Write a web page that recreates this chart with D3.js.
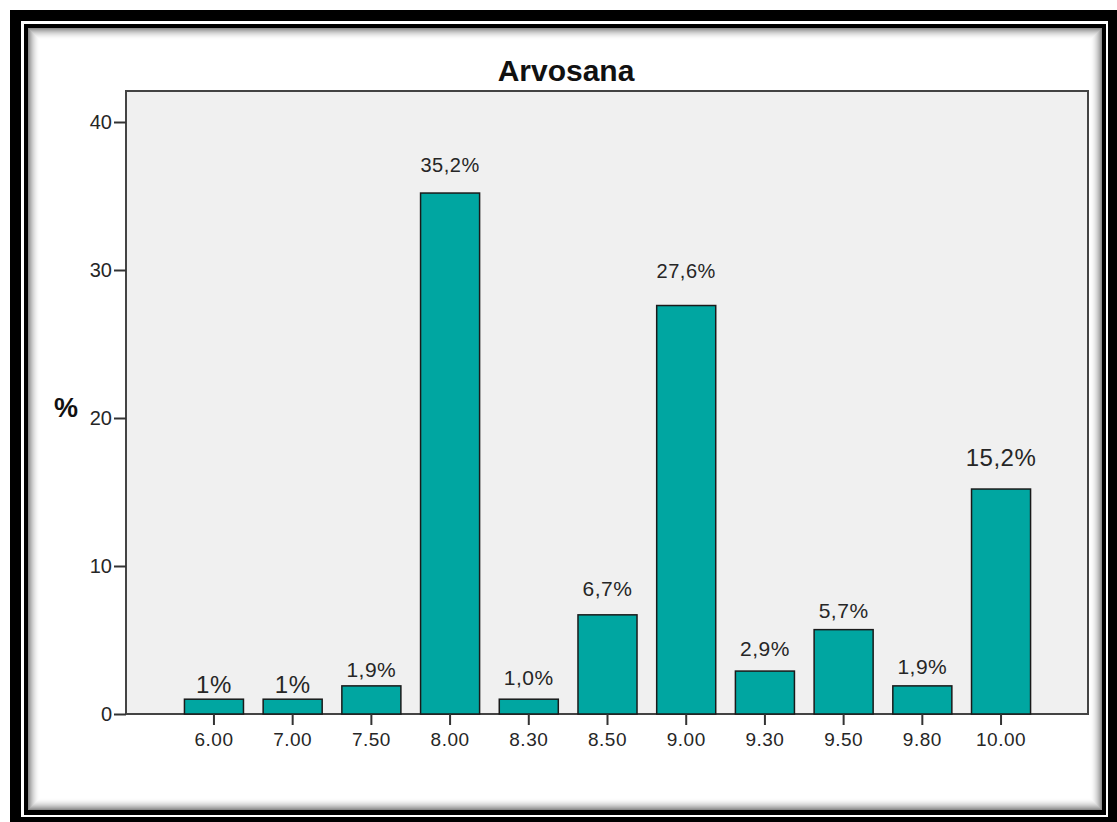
<!DOCTYPE html>
<html>
<head>
<meta charset="utf-8">
<script src="https://cdn.jsdelivr.net/npm/d3@7"></script>
<style>
  body { margin: 0; background: #fff; }
  svg { display: block; font-family: "Liberation Sans", Arial, sans-serif; }
</style>
</head>
<body>
<div id="chart"></div>
<script>
// grade categories and share of answers (%)
var grades = ["6.00", "7.00", "7.50", "8.00", "8.30", "8.50", "9.00", "9.30", "9.50", "9.80", "10.00"];
var percents = [1, 1, 1.9, 35.2, 1.0, 6.7, 27.6, 2.9, 5.7, 1.9, 15.2];
var barLabels = ["1%", "1%", "1,9%", "35,2%", "1,0%", "6,7%", "27,6%", "2,9%", "5,7%", "1,9%", "15,2%"];
var yTicks = [0, 10, 20, 30, 40];

// label look (hand edited in the original, so sizes differ)
var labelFontPx = [24, 24, 21, 20, 21, 21, 20, 21, 21, 21, 24];
var labelLift = [6, 6, 9, 21, 14, 19, 28, 15, 12, 12, 23];

var W = 1117, H = 822;
var barColor = "#00a6a1";
var textColor = "#262626";

var svg = d3.select("#chart").append("svg").attr("width", W).attr("height", H);

// frame: thick black, thin white, thin black, then inner shadow
svg.append("rect").attr("x", 10).attr("y", 10).attr("width", 1107).attr("height", 812).attr("fill", "#000");
svg.append("rect").attr("x", 21).attr("y", 21).attr("width", 1087).attr("height", 796).attr("fill", "#fff");
svg.append("rect").attr("x", 24).attr("y", 24).attr("width", 1082).attr("height", 791).attr("fill", "#000");
svg.append("rect").attr("x", 28).attr("y", 28).attr("width", 1074).attr("height", 782).attr("fill", "#fff");
for (var i = 0; i < 12; i++) {
  svg.append("rect")
    .attr("x", 28.5 + i).attr("y", 28.5 + i)
    .attr("width", 1073 - 2 * i).attr("height", 781 - 2 * i)
    .attr("fill", "none")
    .attr("stroke", "#000")
    .attr("stroke-opacity", 0.45 * Math.pow(1 - i / 12, 2));
}

var plot = { left: 126, right: 1088, top: 91, bottom: 714 };

svg.append("rect")
  .attr("x", plot.left).attr("y", plot.top)
  .attr("width", plot.right - plot.left).attr("height", plot.bottom - plot.top)
  .attr("fill", "#f0f0f0")
  .attr("stroke", "#444")
  .attr("stroke-width", 2);

var x = d3.scaleBand()
  .domain(grades)
  .range([174.6, 1040.4])
  .paddingInner(0.25)
  .paddingOuter(0.125);

var y = d3.scaleLinear().domain([0, 40]).range([plot.bottom, 122]);

svg.append("g")
  .selectAll("rect")
  .data(percents)
  .join("rect")
  .attr("x", function (d, i) { return x(grades[i]); })
  .attr("y", function (d) { return y(d); })
  .attr("width", x.bandwidth())
  .attr("height", function (d) { return y(0) - y(d); })
  .attr("fill", barColor)
  .attr("stroke", "#1a1a1a")
  .attr("stroke-width", 1.5);

svg.append("g")
  .selectAll("text")
  .data(barLabels)
  .join("text")
  .attr("x", function (d, i) { return x(grades[i]) + x.bandwidth() / 2; })
  .attr("y", function (d, i) { return y(percents[i]) - labelLift[i]; })
  .attr("text-anchor", "middle")
  .attr("fill", textColor)
  .style("font-size", function (d, i) { return labelFontPx[i] + "px"; })
  .style("letter-spacing", "0.5px")
  .text(function (d) { return d; });

var yAxis = d3.axisLeft(y).tickValues(yTicks).tickSize(12).tickPadding(2);
var gy = svg.append("g").attr("transform", "translate(" + plot.left + ",0)").call(yAxis);
gy.select(".domain").remove();
gy.selectAll("line").attr("stroke", "#333").attr("stroke-width", 2);
gy.selectAll("text").attr("fill", textColor).style("font-size", "20px");

var xAxis = d3.axisBottom(x).tickSize(11).tickPadding(8);
var gx = svg.append("g").attr("transform", "translate(0," + plot.bottom + ")").call(xAxis);
gx.select(".domain").remove();
gx.selectAll("line").attr("stroke", "#333").attr("stroke-width", 2);
gx.selectAll("text").attr("fill", textColor).style("font-size", "19px").style("letter-spacing", "0.5px");

svg.append("text")
  .attr("x", 566).attr("y", 81)
  .attr("text-anchor", "middle")
  .attr("fill", "#111")
  .style("font-size", "30px")
  .style("font-weight", "bold")
  .text("Arvosana");

svg.append("text")
  .attr("x", 66).attr("y", 417)
  .attr("text-anchor", "middle")
  .attr("fill", "#111")
  .style("font-size", "27px")
  .style("font-weight", "bold")
  .text("%");
</script>
</body>
</html>
